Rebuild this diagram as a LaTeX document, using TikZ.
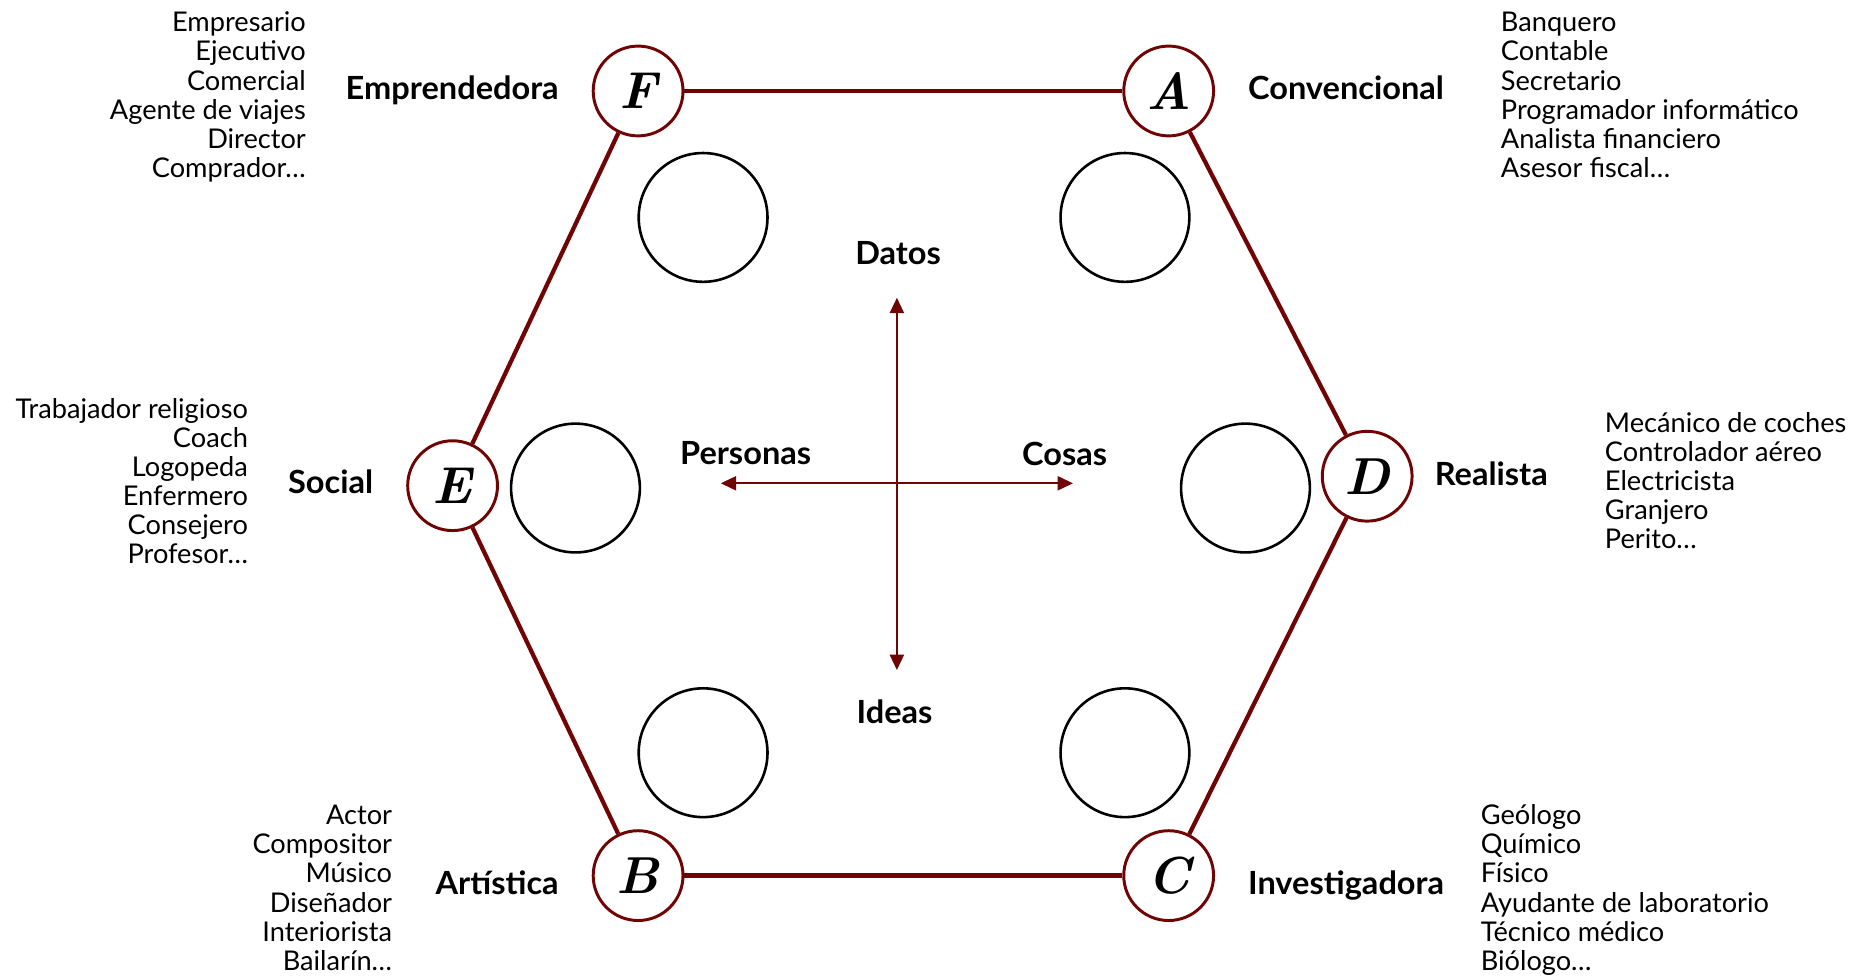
\documentclass[tikz,border=0pt]{standalone}
\usepackage{fontspec}
\newfontfamily\latolist{Lato}
\newfontfamily\latohead{Lato}[FakeStretch=1.02]
\usetikzlibrary{arrows.meta}
\definecolor{hexred}{RGB}{112,4,4}
\begin{document}
\begin{tikzpicture}[x=1pt,y=-1pt,
  letter/.style={circle,draw=hexred,line width=2.5pt,fill=white,minimum size=76pt,inner sep=0pt,
    font=\fontsize{44}{44}\selectfont\bfseries\itshape},
  blank/.style={circle,draw=black,line width=2.2pt,minimum size=109pt,inner sep=0pt},
  edge/.style={draw=hexred,line width=4pt},
  axis/.style={draw=hexred,line width=1.5pt,{Triangle[length=13pt,width=12pt]}-{Triangle[length=13pt,width=12pt]}},
  head/.style={inner sep=0pt,font=\latohead\fontsize{27}{30}\selectfont\bfseries},
  list/.style={inner sep=0pt,font=\latolist\fontsize{23}{24.6}\selectfont},
]
\path[use as bounding box] (0,0) rectangle (1565.6,825.6);

% hexagon vertices
\node[letter] (F) at (540,77) {F};
\node[letter] (A) at (989,77) {A};
\node[letter] (D) at (1157,403) {D};
\node[letter] (C) at (989,741) {C};
\node[letter] (B) at (540,741) {B};
\node[letter] (E) at (383,411) {E};

\draw[edge] (F) -- (A);
\draw[edge,line width=3.6pt] (A) -- (D);
\draw[edge,line width=3.6pt] (D) -- (C);
\draw[edge] (C) -- (B);
\draw[edge,line width=3.6pt] (B) -- (E);
\draw[edge,line width=3.6pt] (E) -- (F);

% empty circles
\node[blank] (c1) at (595,184) {};
\node[blank] (c2) at (952,184) {};
\node[blank] (c3) at (487,413) {};
\node[blank] (c4) at (1054,413) {};
\node[blank] (c5) at (595,637) {};
\node[blank] (c6) at (952,637) {};

% axes
\coordinate (dtop) at (759,252);
\coordinate (dbot) at (759,567);
\coordinate (dleft) at (610,409);
\coordinate (dright) at (908,409);
\draw[axis] (dtop) -- (dbot);
\draw[axis] (dleft) -- (dright);

\node[head,anchor=base] (datos) at (760,224) {Datos};
\node[head,anchor=base] (ideas) at (757,612) {Ideas};
\node[head,anchor=base] (personas) at (631,393) {Personas};
\node[head,anchor=base] (cosas) at (901,394) {Cosas};

% type labels
\node[head,anchor=base east] (hF) at (473,84) {Emprendedora};
\node[head,anchor=base west] (hA) at (1056,84) {Convencional};
\node[head,anchor=base east] (hE) at (316,418) {Social};
\node[head,anchor=base west] (hD) at (1214,411) {Realista};
\node[head,anchor=base east] (hB) at (473,757) {Artística};
\node[head,anchor=base west] (hC) at (1056,757) {Investigadora};

% job lists (anchor base = baseline of last line)
\node[list,align=right,anchor=base east] (lF) at (259,150)
  {Empresario\\Ejecutivo\\Comercial\\Agente de viajes\\Director\\Comprador…};
\node[list,align=left,anchor=base west] (lA) at (1270,150)
  {Banquero\\Contable\\Secretario\\Programador informático\\Analista financiero\\Asesor fiscal…};
\node[list,align=right,anchor=base east] (lE) at (210,477)
  {Trabajador religioso\\Coach\\Logopeda\\Enfermero\\Consejero\\Profesor…};
\node[list,align=left,anchor=base west] (lD) at (1358,464)
  {Mecánico de coches\\Controlador aéreo\\Electricista\\Granjero\\Perito…};
\node[list,align=right,anchor=base east] (lB) at (332,821)
  {Actor\\Compositor\\Músico\\Diseñador\\Interiorista\\Bailarín…};
\node[list,align=left,anchor=base west] (lC) at (1253,821)
  {Geólogo\\Químico\\Físico\\Ayudante de laboratorio\\Técnico médico\\Biólogo…};
\end{tikzpicture}
\end{document}
